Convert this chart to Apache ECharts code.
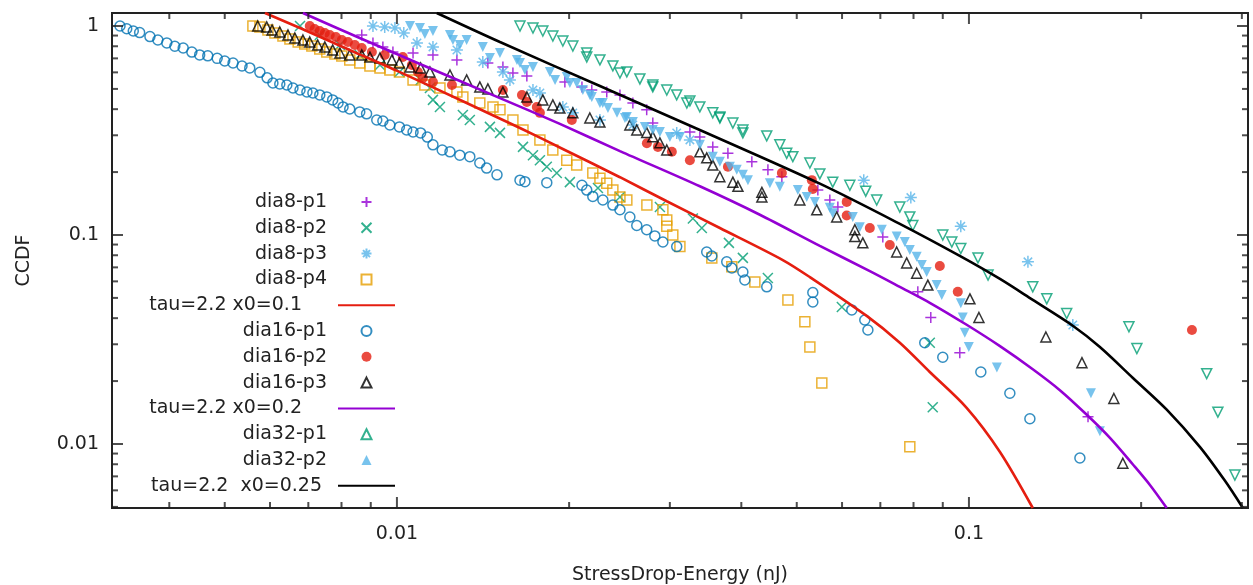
<!DOCTYPE html>
<html>
<head>
<meta charset="utf-8">
<title>CCDF stress drop energy</title>
<script src="https://cdn.jsdelivr.net/npm/echarts@6.0.0/dist/echarts.min.js"></script>
<style>
  html, body { margin: 0; padding: 0; background: #fff; }
  #chart { width: 1253px; height: 585px; }
</style>
</head>
<body>
<div id="chart"></div>
<script>
var xRange = [0.003176, 0.3075];
var yRange = [0.00494, 1.154];
var xMajor = [0.01, 0.1];
var xMinor = [0.004, 0.005, 0.006, 0.007, 0.008, 0.009, 0.02, 0.03, 0.04, 0.05, 0.06, 0.07, 0.08, 0.09, 0.2, 0.3];
var yMajor = [0.01, 0.1, 1];
var yMinor = [0.005, 0.006, 0.007, 0.008, 0.009, 0.02, 0.03, 0.04, 0.05, 0.06, 0.07, 0.08, 0.09, 0.2, 0.3, 0.4, 0.5, 0.6, 0.7, 0.8, 0.9];

var dia8p1 = [[0.00868,0.906],[0.00908,0.83],[0.00945,0.794],[0.00984,0.751],[0.01067,0.743],[0.01156,0.727],[0.01273,0.688],[0.01442,0.665],[0.01532,0.636],[0.01595,0.596],[0.01687,0.577],[0.01966,0.54],[0.02106,0.511],[0.02191,0.494],[0.02327,0.483],[0.02454,0.468],[0.02585,0.428],[0.02733,0.397],[0.02801,0.343],[0.03252,0.311],[0.03385,0.294],[0.03566,0.264],[0.0379,0.246],[0.04173,0.224],[0.04452,0.205],[0.04709,0.19],[0.05443,0.164],[0.05712,0.147],[0.059,0.136],[0.0707,0.0977],[0.0814,0.0535],[0.08576,0.0403],[0.09638,0.0273],[0.1615,0.0135]];
var dia8p2 = [[0.00677,1.0],[0.00733,0.906],[0.00795,0.811],[0.00861,0.727],[0.00934,0.651],[0.0101,0.603],[0.011,0.552],[0.01142,0.505],[0.01156,0.443],[0.01189,0.41],[0.01304,0.375],[0.01341,0.355],[0.01454,0.329],[0.01514,0.308],[0.01661,0.264],[0.01729,0.241],[0.01778,0.228],[0.01828,0.212],[0.01903,0.198],[0.02006,0.179],[0.02246,0.168],[0.02454,0.152],[0.02882,0.136],[0.03291,0.12],[0.03412,0.108],[0.03805,0.0917],[0.04025,0.0777],[0.04451,0.0622],[0.05995,0.0452],[0.08542,0.0305],[0.08644,0.015]];
var dia8p3 = [[0.00908,1.0],[0.00952,0.99],[0.00992,0.978],[0.01028,0.926],[0.01084,0.83],[0.01156,0.794],[0.01273,0.768],[0.01413,0.673],[0.01532,0.603],[0.01576,0.552],[0.01729,0.494],[0.01778,0.478],[0.0195,0.41],[0.0203,0.384],[0.02264,0.355],[0.02585,0.336],[0.03084,0.308],[0.03252,0.285],[0.06548,0.183],[0.07914,0.151],[0.09677,0.11],[0.1268,0.0744],[0.1519,0.0371]];
var dia8p4 = [[0.0056,1.0],[0.00576,0.99],[0.00595,0.957],[0.00612,0.926],[0.00632,0.896],[0.0065,0.866],[0.00672,0.838],[0.0069,0.82],[0.0071,0.802],[0.00733,0.776],[0.00754,0.751],[0.00779,0.735],[0.00801,0.719],[0.00827,0.688],[0.00861,0.665],[0.00897,0.644],[0.00934,0.63],[0.00972,0.616],[0.0101,0.603],[0.01067,0.552],[0.01119,0.522],[0.01189,0.505],[0.01273,0.483],[0.01304,0.458],[0.01396,0.428],[0.01472,0.41],[0.01514,0.397],[0.01595,0.355],[0.01661,0.318],[0.01778,0.285],[0.01873,0.255],[0.01981,0.228],[0.02062,0.216],[0.022,0.198],[0.02264,0.187],[0.02327,0.177],[0.02385,0.164],[0.02454,0.152],[0.02523,0.147],[0.02735,0.139],[0.02917,0.132],[0.02963,0.118],[0.02963,0.11],[0.03036,0.1],[0.03124,0.088],[0.03552,0.0777],[0.0385,0.0704],[0.04224,0.0596],[0.04825,0.0489],[0.05166,0.0384],[0.05271,0.0291],[0.05531,0.0196],[0.07882,0.0097]];
var dia16p1 = [[0.00328,1.0],[0.00337,0.97],[0.00346,0.947],[0.00355,0.93],[0.0037,0.89],[0.00382,0.857],[0.00396,0.83],[0.00409,0.8],[0.00423,0.785],[0.00438,0.75],[0.00452,0.727],[0.00467,0.72],[0.00485,0.7],[0.005,0.68],[0.00517,0.665],[0.00536,0.644],[0.00553,0.63],[0.00576,0.6],[0.00593,0.565],[0.00607,0.534],[0.00624,0.528],[0.00642,0.522],[0.00658,0.505],[0.00677,0.494],[0.00696,0.483],[0.00713,0.478],[0.00733,0.468],[0.00754,0.458],[0.00772,0.443],[0.00789,0.428],[0.00805,0.41],[0.00827,0.401],[0.00861,0.388],[0.00885,0.38],[0.00922,0.355],[0.00945,0.351],[0.00972,0.336],[0.0101,0.329],[0.0104,0.318],[0.01067,0.311],[0.011,0.308],[0.0113,0.294],[0.01156,0.27],[0.012,0.255],[0.01238,0.25],[0.01288,0.241],[0.01341,0.237],[0.01396,0.221],[0.01435,0.209],[0.01496,0.194],[0.01641,0.183],[0.01674,0.18],[0.01828,0.178],[0.02106,0.173],[0.02147,0.164],[0.022,0.153],[0.02291,0.147],[0.02385,0.139],[0.02454,0.132],[0.02554,0.122],[0.02626,0.111],[0.02733,0.106],[0.02824,0.099],[0.02917,0.0926],[0.03084,0.088],[0.0348,0.0829],[0.03552,0.0793],[0.03772,0.0744],[0.0385,0.0695],[0.04025,0.0665],[0.04057,0.0609],[0.04431,0.0565],[0.05334,0.0531],[0.05334,0.0478],[0.0624,0.0438],[0.06575,0.0392],[0.06658,0.0351],[0.0837,0.0305],[0.09,0.026],[0.1049,0.0221],[0.1179,0.0175],[0.1278,0.0132],[0.1563,0.00857]];
var dia16p2 = [[0.00704,1.0],[0.00718,0.968],[0.00733,0.946],[0.00748,0.926],[0.00763,0.906],[0.00782,0.886],[0.00801,0.857],[0.00821,0.838],[0.00844,0.811],[0.00868,0.785],[0.00904,0.751],[0.00952,0.727],[0.01024,0.711],[0.01062,0.651],[0.01088,0.603],[0.0111,0.564],[0.01156,0.54],[0.01248,0.522],[0.01532,0.494],[0.01654,0.468],[0.01687,0.433],[0.01756,0.41],[0.01778,0.384],[0.02022,0.355],[0.02735,0.275],[0.02859,0.264],[0.03024,0.25],[0.03252,0.228],[0.0379,0.212],[0.04709,0.198],[0.05313,0.183],[0.05334,0.166],[0.06114,0.144],[0.06114,0.124],[0.0671,0.108],[0.07272,0.0896],[0.08893,0.0711],[0.0956,0.0535],[0.2454,0.0351]];
var dia16p3 = [[0.00571,1.0],[0.00592,0.99],[0.00605,0.957],[0.00624,0.936],[0.00645,0.906],[0.00663,0.876],[0.00685,0.857],[0.00704,0.838],[0.00727,0.811],[0.00748,0.794],[0.00772,0.768],[0.00795,0.743],[0.00827,0.727],[0.00868,0.727],[0.00897,0.71],[0.00934,0.703],[0.0098,0.688],[0.0101,0.665],[0.01054,0.636],[0.011,0.63],[0.01142,0.603],[0.01238,0.583],[0.01324,0.552],[0.01396,0.511],[0.01442,0.5],[0.01532,0.483],[0.01687,0.458],[0.01799,0.443],[0.01873,0.419],[0.01927,0.405],[0.0203,0.384],[0.02174,0.363],[0.02264,0.347],[0.02554,0.336],[0.02626,0.318],[0.02733,0.309],[0.02801,0.295],[0.02882,0.276],[0.02963,0.255],[0.03385,0.25],[0.0348,0.234],[0.03566,0.216],[0.03669,0.19],[0.03866,0.179],[0.03946,0.171],[0.04345,0.16],[0.04345,0.152],[0.05063,0.147],[0.05419,0.132],[0.05872,0.122],[0.06317,0.106],[0.06317,0.0983],[0.06523,0.0917],[0.07476,0.0829],[0.07783,0.0735],[0.08103,0.0656],[0.08475,0.0576],[0.1004,0.0495],[0.1041,0.0403],[0.1363,0.0325],[0.1576,0.0245],[0.1792,0.0165],[0.1858,0.00809]];
var dia32p1 = [[0.01641,1.0],[0.01729,0.978],[0.01799,0.946],[0.01873,0.896],[0.0195,0.848],[0.0203,0.802],[0.02147,0.743],[0.02147,0.711],[0.02264,0.688],[0.02385,0.644],[0.02454,0.596],[0.02523,0.603],[0.02659,0.558],[0.02801,0.522],[0.02801,0.511],[0.02963,0.494],[0.03084,0.468],[0.03212,0.428],[0.03252,0.438],[0.03385,0.41],[0.03566,0.384],[0.03669,0.367],[0.03669,0.363],[0.03866,0.343],[0.04025,0.318],[0.04025,0.308],[0.04431,0.298],[0.04671,0.27],[0.04802,0.246],[0.04922,0.237],[0.05271,0.221],[0.05487,0.196],[0.0578,0.179],[0.06191,0.173],[0.066,0.162],[0.06898,0.147],[0.07571,0.136],[0.07882,0.122],[0.07977,0.111],[0.09,0.1],[0.09333,0.0926],[0.09677,0.0862],[0.1037,0.0777],[0.108,0.0643],[0.1293,0.0565],[0.1368,0.0495],[0.1482,0.0421],[0.1904,0.0364],[0.1966,0.0286],[0.2604,0.0217],[0.2724,0.0142],[0.2917,0.0071]];
var dia32p2 = [[0.01054,1.0],[0.01097,0.978],[0.01119,0.915],[0.01156,0.946],[0.01238,0.906],[0.01253,0.857],[0.01288,0.811],[0.01324,0.857],[0.01413,0.794],[0.01454,0.703],[0.01514,0.743],[0.01621,0.688],[0.01641,0.665],[0.01674,0.616],[0.01729,0.636],[0.01851,0.603],[0.0189,0.552],[0.01981,0.57],[0.02006,0.534],[0.02062,0.534],[0.02114,0.494],[0.02174,0.468],[0.02191,0.458],[0.02264,0.428],[0.0229,0.428],[0.02338,0.405],[0.02425,0.384],[0.02504,0.363],[0.02523,0.367],[0.02585,0.347],[0.02713,0.329],[0.02801,0.318],[0.02882,0.311],[0.03,0.294],[0.03124,0.294],[0.03385,0.27],[0.03566,0.237],[0.03669,0.224],[0.0382,0.212],[0.03927,0.205],[0.04025,0.194],[0.04108,0.183],[0.04487,0.177],[0.04671,0.17],[0.05023,0.164],[0.05205,0.152],[0.05378,0.144],[0.05712,0.135],[0.0578,0.127],[0.06265,0.122],[0.06445,0.109],[0.07041,0.106],[0.07476,0.0983],[0.07725,0.0926],[0.07882,0.0848],[0.08103,0.0786],[0.08271,0.0719],[0.08435,0.0666],[0.08781,0.0576],[0.08964,0.0516],[0.09677,0.0471],[0.09754,0.0403],[0.09834,0.0341],[0.09994,0.0291],[0.1119,0.0232],[0.1634,0.0175],[0.1694,0.0115]];

var fit01 = [[0.00588,1.154],[0.00677,0.978],[0.00827,0.768],[0.0101,0.603],[0.01324,0.428],[0.01641,0.325],[0.0195,0.258],[0.02454,0.189],[0.02963,0.145],[0.03669,0.108],[0.04727,0.0759],[0.05271,0.0629],[0.06626,0.041],[0.07571,0.0305],[0.08542,0.0221],[0.09908,0.0149],[0.1133,0.00916],[0.1293,0.00494]];
var fit02 = [[0.00685,1.154],[0.00861,0.876],[0.01097,0.658],[0.01514,0.452],[0.01927,0.34],[0.02454,0.252],[0.03385,0.171],[0.0431,0.125],[0.05487,0.0887],[0.0671,0.0672],[0.07571,0.0565],[0.08542,0.0474],[0.09908,0.0372],[0.1133,0.0294],[0.1293,0.0228],[0.1442,0.0181],[0.1607,0.0138],[0.1764,0.0107],[0.1935,0.00798],[0.2072,0.00637],[0.2217,0.00494]];
var fit025 = [[0.01174,1.154],[0.01514,0.838],[0.02264,0.516],[0.03385,0.318],[0.05487,0.176],[0.07571,0.113],[0.09638,0.0794],[0.1133,0.0616],[0.1293,0.0489],[0.1519,0.0368],[0.1694,0.0291],[0.1935,0.0207],[0.2217,0.0146],[0.2533,0.00969],[0.2801,0.00668],[0.3012,0.00494]];

(function() {
  var chart = echarts.init(document.getElementById('chart'));
  var font = 'DejaVu Sans';
  var ink = '#222';
  var none = 'rgba(0,0,0,0)';
  var rowH = 25.8;

  var plus = 'path://M5,0L5,10M0,5L10,5';
  var cross = 'path://M0,0L10,10M10,0L0,10';
  var star = 'path://M5,0L5,10M0,5L10,5M1.5,1.5L8.5,8.5M8.5,1.5L1.5,8.5';

  function label(v) {
    return String(+v.toPrecision(2));
  }

  function dots(name, data, symbol, size, color, filled, rotate) {
    return {
      name: name,
      type: 'scatter',
      data: data,
      symbol: symbol,
      symbolSize: size,
      symbolRotate: rotate || 0,
      silent: true,
      itemStyle: {
        color: filled ? color : none,
        borderColor: color,
        borderWidth: filled ? 0 : 1.5
      }
    };
  }

  function curve(name, data, color) {
    return {
      name: name,
      type: 'line',
      data: data,
      symbol: 'none',
      smooth: 0.3,
      silent: true,
      lineStyle: {color: color, width: 2.6},
      itemStyle: {color: color}
    };
  }

  // gnuplot style ticks: short bars on the border, pointing inwards on all four sides
  function tickMarks() {
    var items = [];
    var w = 2;
    function add(value, sw, sh, ox, oy) {
      items.push({value: value, symbolSize: [sw, sh], symbolOffset: [ox, oy]});
    }
    function onX(values, len) {
      values.forEach(function(v) {
        add([v, yRange[0]], w, len, 0, -len / 2);
        add([v, yRange[1]], w, len, 0, len / 2);
      });
    }
    function onY(values, len) {
      values.forEach(function(v) {
        add([xRange[0], v], len, w, len / 2, 0);
        add([xRange[1], v], len, w, -len / 2, 0);
      });
    }
    onX(xMajor, 11);
    onX(xMinor, 6);
    onY(yMajor, 11);
    onY(yMinor, 6);
    return {
      name: 'ticks',
      type: 'scatter',
      symbol: 'rect',
      silent: true,
      clip: false,
      z: 5,
      itemStyle: {color: ink},
      data: items
    };
  }

  function legendBlock(names, firstRow, isLine, padRight) {
    return {
      orient: 'vertical',
      right: isLine ? 857 : 880.5,
      top: 202 + firstRow * rowH - rowH / 2,
      padding: 0,
      align: 'right',
      itemWidth: isLine ? 57 : 10,
      itemHeight: 10,
      itemGap: 0,
      selectedMode: false,
      textStyle: {fontFamily: font, fontSize: 19, color: ink, lineHeight: rowH, padding: [0, padRight, 0, 0]},
      data: names.map(function(n) {
        return isLine ? {name: n, itemStyle: {opacity: 0}} : {name: n};
      })
    };
  }

  var series = [
    dots('dia8-p1', dia8p1, plus, 11, '#9400d3', false),
    dots('dia8-p2', dia8p2, cross, 10, '#009e73', false),
    dots('dia8-p3', dia8p3, star, 12, '#56b4e9', false),
    dots('dia8-p4', dia8p4, 'rect', 10, '#e69f00', false),
    curve('tau=2.2 x0=0.1', fit01, '#e51e10'),
    dots('dia16-p1', dia16p1, 'circle', 10, '#0072b2', false),
    dots('dia16-p2', dia16p2, 'circle', 10, '#e51e10', true),
    dots('dia16-p3', dia16p3, 'triangle', 10, '#000000', false),
    curve('tau=2.2 x0=0.2', fit02, '#9400d3'),
    dots('dia32-p1', dia32p1, 'triangle', 10, '#009e73', false, 180),
    dots('dia32-p2', dia32p2, 'triangle', 10, '#56b4e9', true, 180),
    curve('tau=2.2  x0=0.25', fit025, '#000000'),
    tickMarks()
  ];

  chart.setOption({
    animation: false,
    backgroundColor: '#fff',
    grid: {left: 112, right: 5, top: 13, bottom: 77, containLabel: false, outerBoundsMode: 'none',
      show: true, borderColor: ink, borderWidth: 2, backgroundColor: none},
    legend: [
      legendBlock(['dia8-p1', 'dia8-p2', 'dia8-p3', 'dia8-p4'], 0, false, 29.5),
      legendBlock(['tau=2.2 x0=0.1'], 4, true, 31),
      legendBlock(['dia16-p1', 'dia16-p2', 'dia16-p3'], 5, false, 29.5),
      legendBlock(['tau=2.2 x0=0.2'], 8, true, 31),
      legendBlock(['dia32-p1', 'dia32-p2'], 9, false, 29.5),
      legendBlock(['tau=2.2  x0=0.25'], 11, true, 11)
    ],
    xAxis: {
      type: 'log',
      logBase: 10,
      min: xRange[0],
      max: xRange[1],
      axisLine: {show: false},
      axisTick: {show: false},
      splitLine: {show: false},
      axisLabel: {customValues: xMajor, formatter: label, margin: 17,
        fontFamily: font, fontSize: 19, color: ink},
      name: 'StressDrop-Energy (nJ)',
      nameLocation: 'middle',
      nameGap: 58,
      nameTextStyle: {fontFamily: font, fontSize: 19, color: ink}
    },
    yAxis: {
      type: 'log',
      logBase: 10,
      min: yRange[0],
      max: yRange[1],
      axisLine: {show: false},
      axisTick: {show: false},
      splitLine: {show: false},
      axisLabel: {customValues: yMajor, formatter: label, margin: 13,
        fontFamily: font, fontSize: 19, color: ink},
      name: 'CCDF',
      nameLocation: 'middle',
      nameGap: 78,
      nameTextStyle: {fontFamily: font, fontSize: 19, color: ink}
    },
    series: series
  });
})();
</script>
</body>
</html>
